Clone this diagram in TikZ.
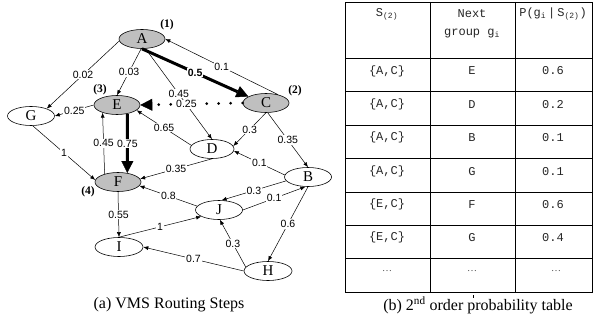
\documentclass[tikz,border=0pt]{standalone}
\usepackage{fontspec}
\setmainfont{Liberation Serif}
\newfontfamily\lblfont{Liberation Sans}
\newfontfamily\tabfont{Liberation Mono}
\usetikzlibrary{arrows.meta,shapes.geometric,calc}
\begin{document}
\begin{tikzpicture}[x=1pt,y=-1pt,
  vtx/.style={ellipse,draw,line width=0.6pt,minimum width=46pt,minimum height=19pt,inner sep=0pt,font=\fontsize{15}{15}\selectfont},
  hot/.style={vtx,fill=gray!50},
  edge/.style={line width=0.5pt,-{Latex[length=5pt,width=4pt]}},
  lbl/.style={fill=white,inner sep=0.8pt,font=\lblfont\fontsize{10.5}{10.5}\selectfont},
  boldlbl/.style={fill=white,inner sep=0.8pt,font=\lblfont\bfseries\fontsize{10.5}{10.5}\selectfont},
  stepno/.style={font=\bfseries\fontsize{11.5}{11.5}\selectfont},
  bigarrow/.style={line width=3pt,-{Triangle[length=12pt,width=12pt,line width=0.4pt]}},
  dotline/.style={line width=3pt,line cap=round,dash pattern=on 0pt off 12pt,-{Triangle[length=12pt,width=12pt,line width=0.4pt]}},
  tabline/.style={line width=0.8pt},
  cell/.style={font=\tabfont\fontsize{12}{14}\selectfont,text=black!85,align=center,inner sep=0pt},
  dotcell/.style={font=\fontsize{10}{12}\selectfont,text=black!70,inner sep=0pt},
  captext/.style={font=\fontsize{16}{16}\selectfont}
  ]
\useasboundingbox (0,0) rectangle (593,323);
% nodes
\node[hot] (A) at (142,39) {A};
\node[hot] (C) at (266,103) {C};
\node[hot] (E) at (117,105) {E};
\node[hot] (F) at (118,182) {F};
\node[vtx,minimum width=47pt] (G) at (31,116) {G};
\node[vtx,minimum width=44pt] (D) at (212,149) {D};
\node[vtx,minimum width=47pt] (B) at (308,177) {B};
\node[vtx,minimum width=47pt] (J) at (219,210) {J};
\node[vtx,minimum width=48pt] (I) at (119,247) {I};
\node[vtx,minimum width=48pt] (H) at (268,271) {H};
% step numbers
\node[stepno] (s1) at (167,25) {(1)};
\node[stepno] (s2) at (295,91) {(2)};
\node[stepno] (s3) at (100,90) {(3)};
\node[stepno] (s4) at (88,192) {(4)};
% edges
\draw[edge] (A.185) -- node[lbl]{0.02} (G.25);
\draw[edge] (A.265) -- node[lbl]{0.03} (E.north);
\draw[edge] (A.290) -- node[lbl]{0.45} (D.north);
\draw[bigarrow] (A.south) -- node[boldlbl]{0.5} (C.160);
\draw[edge] (C.35) -- node[lbl]{0.1} (A.east);
\draw[dotline] (C.west) -- node[lbl,pos=0.55]{0.25} (E.east);
\draw[edge] (C.south) -- node[lbl]{0.3} (D.8);
\draw[edge] (C.-80) -- node[lbl]{0.35} (B.north);
\draw[edge] (E.west) -- node[lbl]{0.25} (G.east);
\draw[edge] (D.170) -- node[lbl]{0.65} (E.-15);
\draw[bigarrow] (E.-40) -- node[lbl]{0.75} (F.44);
\draw[edge] (F.149) -- node[lbl]{0.45} (E.208);
\draw[edge] (G.-80) -- node[lbl]{1} (F.175);
\draw[edge] (D.south) -- node[lbl]{0.35} (F.8);
\draw[edge] (J.170) -- node[lbl]{0.8} (F.-10);
\draw[edge] (F.south) -- node[lbl]{0.55} (I.north);
\draw[edge] (I.north) -- node[lbl]{1} (J.200);
\draw[edge] (H.west) -- node[lbl]{0.7} (I.east);
\draw[edge] (H.170) -- node[lbl]{0.3} (J.-85);
\draw[edge] (B.190) -- node[lbl]{0.3} (J.75);
\draw[edge] (J.east) -- node[lbl]{0.1} (B.-105);
\draw[edge] (B.175) -- node[lbl]{0.1} (D.-5);
\draw[edge] (B.-90) -- node[lbl]{0.6} (H.north);
% table
\draw[tabline] (345,2) rectangle (592,292);
\draw[tabline] (430,2) -- (430,292);
\draw[tabline] (515,2) -- (515,292);
\foreach \k in {0,...,6} {\draw[tabline] (345,58.5+33.35*\k) -- (592,58.5+33.35*\k);}
\draw[line width=0.9pt] (473,295) -- (473,298);
\node[cell] (h1) at (387,14) {S\textsubscript{(2)}};
\node[cell] (h2) at (472,14) {Next};
\node[cell] (h2b) at (472,34) {group g\textsubscript{i}};
\node[cell] (h3) at (553,14) {P(g\textsubscript{i}\,|\,S\textsubscript{(2)})};
\foreach \r/\s/\g/\p in {0/{\{A,C\}}/E/0.6, 1/{\{A,C\}}/D/0.2, 2/{\{A,C\}}/B/0.1, 3/{\{A,C\}}/G/0.1, 4/{\{E,C\}}/F/0.6, 5/{\{E,C\}}/G/0.4} {
  \node[cell] (s\r) at (387,71+33.35*\r) {\s};
  \node[cell] (g\r) at (472,71+33.35*\r) {\g};
  \node[cell] (p\r) at (553,71+33.35*\r) {\p};
}
\node[dotcell] (s6) at (387,71+33.35*6) {\ldots};
\node[dotcell] (g6) at (472,71+33.35*6) {\ldots};
\node[dotcell] (p6) at (556,71+33.35*6) {\ldots};
% captions
\node[captext] (capa) at (169,305) {(a) VMS Routing Steps};
\node[captext] (capb) at (478,305) {(b) 2\textsuperscript{nd} order probability table};
\end{tikzpicture}
\end{document}
